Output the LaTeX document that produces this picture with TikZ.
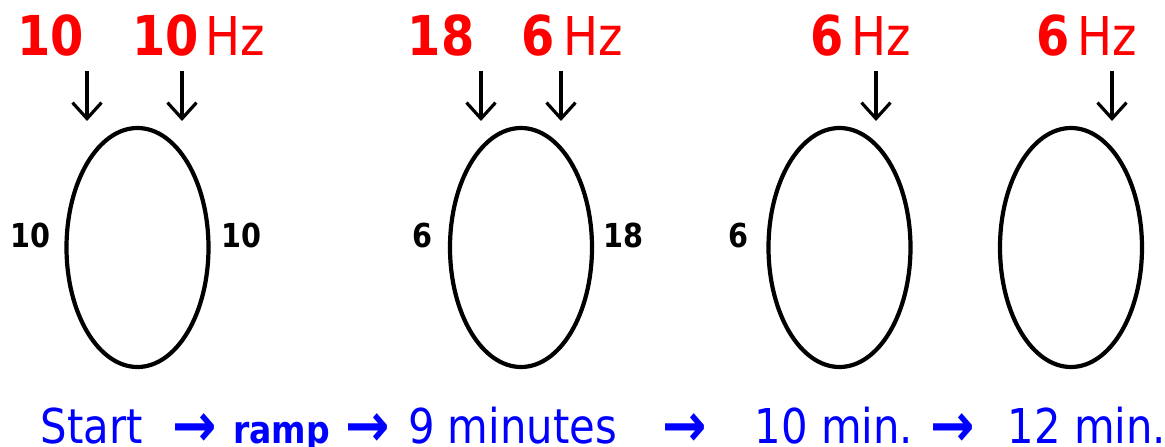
\documentclass[tikz,border=0pt]{standalone}
\usepackage{fontspec}
\setmainfont[FakeStretch=0.87]{DejaVu Sans}
\usetikzlibrary{shapes.geometric,arrows.meta}
\definecolor{hzred}{RGB}{255,0,0}
\definecolor{tblue}{RGB}{0,0,255}
\tikzset{
  cell/.style={draw=black, line width=4.2pt, ellipse, inner sep=0pt, minimum width=142pt, minimum height=239pt},
  freq/.style={anchor=base, inner sep=0pt, text=hzred, font=\bfseries\fontsize{55}{60}\selectfont},
  unit/.style={anchor=base, inner sep=0pt, text=hzred, font=\fontsize{53.5}{58}\selectfont},
  side/.style={anchor=base, inner sep=0pt, text=black, font=\bfseries\fontsize{33}{36}\selectfont},
  stage/.style={anchor=base, inner sep=0pt, text=tblue, font=\fontsize{48}{52}\selectfont},
  stagebold/.style={anchor=base, inner sep=0pt, text=tblue, font=\bfseries\fontsize{38}{42}\selectfont},
  tarrow/.style={anchor=base, inner sep=0pt, text=tblue, font=\bfseries\fontsize{61}{64}\selectfont},
  feed/.style={line width=3.2pt, -{Straight Barb[length=16pt,width=29pt,line width=3.2pt]}}
}
\begin{document}
\begin{tikzpicture}[x=1pt,y=-1pt]
\useasboundingbox (0,0) rectangle (1165,447);
% cells
\node[cell] (e1) at (137.5,247.5) {};
\node[cell] (e2) at (521,247.5) {};
\node[cell] (e3) at (839.5,247.5) {};
\node[cell] (e4) at (1071,247.5) {};
% frequency labels
\node[freq] (f1a) at (50.5,55) {10};
\node[freq] (f1b) at (165.5,55) {10};
\node[unit] (u1) at (235.5,55) {Hz};
\node[freq] (f2a) at (441,55) {18};
\node[freq] (f2b) at (538,55) {6};
\node[unit] (u2) at (593,55) {Hz};
\node[freq] (f3) at (827.5,55) {6};
\node[unit] (u3) at (881.5,55) {Hz};
\node[freq] (f4) at (1053,55) {6};
\node[unit] (u4) at (1107.5,55) {Hz};
% side labels
\node[side] (s1l) at (30.5,247) {10};
\node[side] (s1r) at (241,247) {10};
\node[side] (s2l) at (422.5,247) {6};
\node[side] (s2r) at (623.5,247) {18};
\node[side] (s3l) at (738.5,247) {6};
% arrow coordinates
\coordinate (a1s) at (87,71);   \coordinate (a1e) at (87,121);
\coordinate (a2s) at (182,71);  \coordinate (a2e) at (182,121);
\coordinate (a3s) at (481,71);  \coordinate (a3e) at (481,121);
\coordinate (a4s) at (561,71);  \coordinate (a4e) at (561,121);
\coordinate (a5s) at (876,71);  \coordinate (a5e) at (876,121);
\coordinate (a6s) at (1112,71); \coordinate (a6e) at (1112,121);
\draw[feed] (a1s) -- (a1e);
\draw[feed] (a2s) -- (a2e);
\draw[feed] (a3s) -- (a3e);
\draw[feed] (a4s) -- (a4e);
\draw[feed] (a5s) -- (a5e);
\draw[feed] (a6s) -- (a6e);
% timeline
\node[stage] (t1) at (92,443) {Start};
\node[tarrow] (r1) at (195,446) {→};
\node[stagebold] (t2) at (281.5,443) {ramp};
\node[tarrow] (r2) at (368,446) {→};
\node[stage] (t3) at (512.5,443) {9 minutes};
\node[tarrow] (r3) at (685,446) {→};
\node[stage] (t4) at (834,443) {10 min.};
\node[tarrow] (r4) at (952.5,446) {→};
\node[stage] (t5) at (1087,443) {12 min.};
\end{tikzpicture}
\end{document}
